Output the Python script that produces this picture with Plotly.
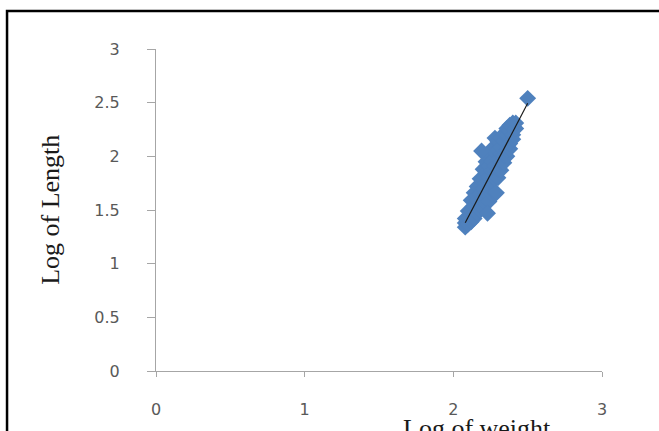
import numpy as np
import plotly.graph_objects as go

# Data: log weight (x) and log length (y) of each fish
log_weight = [
    2.08, 2.08, 2.08,
    2.10, 2.10, 2.10,
    2.12, 2.12, 2.12,
    2.14, 2.14, 2.14,
    2.16, 2.16, 2.16,
    2.18, 2.18, 2.18,
    2.20, 2.20, 2.20, 2.20, 2.20,
    2.22, 2.22, 2.22, 2.22, 2.22,
    2.24, 2.24, 2.24, 2.24, 2.24,
    2.26, 2.26, 2.26, 2.26, 2.26,
    2.28, 2.28, 2.28, 2.28, 2.28,
    2.30, 2.30, 2.30, 2.30, 2.30,
    2.32, 2.32, 2.32, 2.32, 2.32,
    2.34, 2.34, 2.34, 2.34,
    2.36, 2.36, 2.36, 2.36,
    2.38, 2.38, 2.38, 2.38,
    2.40, 2.40, 2.40, 2.40,
    2.42, 2.42,
    2.19, 2.23, 2.29,
    2.50,
]
log_length = [
    1.34, 1.38, 1.42,
    1.37, 1.43, 1.49,
    1.39, 1.49, 1.59,
    1.42, 1.54, 1.66,
    1.47, 1.59, 1.72,
    1.50, 1.65, 1.79,
    1.52, 1.61, 1.70, 1.79, 1.88,
    1.56, 1.66, 1.75, 1.85, 1.95,
    1.58, 1.70, 1.81, 1.91, 2.03,
    1.65, 1.76, 1.86, 1.96, 2.07,
    1.66, 1.79, 1.91, 2.04, 2.17,
    1.80, 1.88, 1.97, 2.06, 2.14,
    1.87, 1.95, 2.02, 2.09, 2.17,
    1.94, 2.01, 2.14, 2.21,
    2.00, 2.06, 2.20, 2.26,
    2.07, 2.12, 2.24, 2.29,
    2.16, 2.20, 2.27, 2.31,
    2.26, 2.31,
    2.05, 1.47, 1.66,
    2.54,
]
y_tick_vals = [0, 0.5, 1, 1.5, 2, 2.5, 3]
y_tick_text = ["0", "0.5", "1", "1.5", "2", "2.5", "3"]
x_tick_vals = [0, 1, 2, 3]
x_tick_text = ["0", "1", "2", "3"]

# Linear trendline (least squares), drawn over the data's x range
slope, intercept = np.polyfit(log_weight, log_length, 1)
trend_x = [min(log_weight), max(log_weight)]
trend_y = [slope * v + intercept for v in trend_x]

fig = go.Figure()
fig.add_trace(go.Scatter(
    x=log_weight, y=log_length, mode="markers",
    marker=dict(symbol="diamond", size=13, color="#4F81BD",
                line=dict(width=0)),
    showlegend=False, hoverinfo="skip",
))
fig.add_trace(go.Scatter(
    x=trend_x, y=trend_y, mode="lines",
    line=dict(color="#1a1a1a", width=1.2),
    showlegend=False, hoverinfo="skip",
))

axis_common = dict(
    range=[0, 3], showgrid=False, zeroline=False, showline=True,
    linecolor="#A6A6A6", linewidth=1, ticks="outside", tickcolor="#A6A6A6",
    tickfont=dict(family="DejaVu Sans", size=16, color="#595959"),
    fixedrange=True,
)
fig.update_xaxes(**axis_common, tickvals=x_tick_vals, ticktext=x_tick_text,
                 ticklen=5, ticklabelstandoff=19)
fig.update_yaxes(**axis_common, tickvals=y_tick_vals, ticktext=y_tick_text,
                 ticklen=8, ticklabelstandoff=24)

fig.update_layout(
    width=659, height=431,
    margin=dict(l=156, r=57, t=49, b=60),
    paper_bgcolor="white", plot_bgcolor="white",
    annotations=[
        dict(text="Log of Length", textangle=-90, xref="paper", yref="paper",
             x=-0.238, y=0.5, xanchor="center", yanchor="middle",
             showarrow=False,
             font=dict(family="Liberation Serif", size=26, color="#1a1a1a")),
        dict(text="Log of weight", xref="paper", yref="paper",
             x=0.72, y=-0.127, xanchor="center", yanchor="top",
             showarrow=False,
             font=dict(family="Liberation Serif", size=26, color="#1a1a1a")),
    ],
    shapes=[
        dict(type="rect", xref="paper", yref="paper",
             x0=-0.334, x1=1.2, y0=-0.3, y1=1.118,
             line=dict(color="black", width=2.5), layer="above"),
    ],
)

fig.write_html("out.html", config={"displayModeBar": False},
               post_script="document.body.style.margin='0';")
